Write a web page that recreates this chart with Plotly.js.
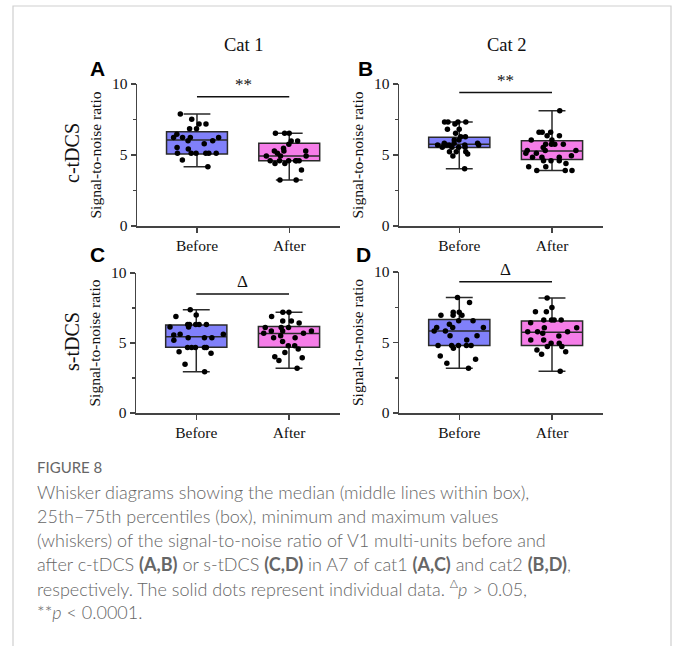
<!DOCTYPE html>
<html>
<head>
<meta charset="utf-8">
<script src="https://cdn.plot.ly/plotly-3.0.1.min.js"></script>
<style>html,body{margin:0;padding:0;background:#fff;}#chart{width:677px;height:646px;}</style>
</head>
<body>
<div id="chart"></div>
<script>
// ---------- data ----------
const groups = ['Before', 'After'];
const panelLetters = ['A', 'B', 'C', 'D'];
const colTitles = ['Cat 1', 'Cat 2'];
const rowTitles = ['c-tDCS', 's-tDCS'];
const sigLabels = ['**', '**', 'Δ', 'Δ'];
const sigLevel = [9.1, 9.4, 8.5, 9.3];

// individual data points
const beforeA = [7.89, 7.51, 7.18, 7.18, 6.85, 6.85, 6.46, 6.24, 6.24, 6.24, 6.24, 6.01, 6.01, 5.80, 5.52, 5.42, 5.12, 5.12, 5.12, 5.12, 5.12, 5.12, 4.65, 4.18];
const afterA  = [6.53, 6.53, 6.53, 5.99, 5.99, 5.75, 5.47, 5.28, 5.28, 5.28, 5.12, 4.93, 4.93, 4.93, 4.60, 4.60, 4.60, 4.60, 4.60, 4.60, 4.41, 4.41, 3.94, 3.24, 3.24];
const beforeB = [7.32, 7.32, 7.32, 7.32, 7.18, 6.81, 6.81, 6.53, 6.29, 6.29, 6.06, 6.06, 5.82, 5.82, 5.82, 5.70, 5.70, 5.70, 5.70, 5.70, 5.55, 5.55, 5.55, 5.55, 5.23, 5.23, 5.23, 5.07, 4.93, 4.04];
const afterB  = [8.12, 6.60, 6.60, 6.60, 6.36, 6.36, 6.06, 6.06, 5.75, 5.75, 5.75, 5.75, 5.52, 5.31, 5.31, 5.31, 5.12, 5.12, 4.95, 4.84, 4.84, 4.84, 4.60, 4.60, 4.60, 4.41, 4.18, 4.18, 3.90, 3.90, 3.90];
const beforeC = [7.38, 7.00, 6.90, 6.33, 6.33, 6.33, 6.33, 6.33, 6.14, 6.14, 5.62, 5.62, 5.57, 5.38, 5.38, 5.38, 5.19, 4.67, 4.67, 4.67, 4.67, 4.67, 4.38, 4.26, 3.48, 2.95];
const afterC  = [7.19, 7.19, 6.90, 6.57, 6.57, 6.43, 6.10, 6.10, 6.10, 5.86, 5.86, 5.86, 5.69, 5.69, 5.52, 5.38, 5.38, 5.10, 4.81, 4.81, 4.57, 4.33, 4.02, 3.95, 3.75, 3.19];
const beforeD = [8.19, 7.84, 7.15, 7.15, 6.94, 6.94, 6.94, 6.54, 6.54, 6.30, 6.07, 6.07, 6.07, 5.81, 5.81, 5.48, 5.48, 5.18, 4.78, 4.78, 4.78, 4.78, 4.78, 4.60, 4.05, 3.81, 3.53, 3.18];
const afterD  = [8.16, 7.48, 7.18, 7.18, 6.59, 6.59, 6.59, 6.59, 6.40, 6.05, 6.05, 5.76, 5.76, 5.76, 5.65, 5.46, 5.18, 5.18, 4.94, 4.94, 4.71, 4.71, 4.47, 4.35, 4.16, 2.96];

// box statistics [Before, After]
const minA = [4.18, 3.24], q1A = [5.07, 4.60], medA = [6.06, 4.93], q3A = [6.64, 5.82], maxA = [7.89, 6.53];
const minB = [4.04, 3.90], q1B = [5.52, 4.69], medB = [5.75, 5.28], q3B = [6.25, 6.01], maxB = [7.32, 8.12];
const minC = [2.95, 3.19], q1C = [4.69, 4.69], medC = [5.45, 5.67], q3C = [6.29, 6.17], maxC = [7.38, 7.19];
const minD = [3.18, 2.96], q1D = [4.78, 4.78], medD = [5.81, 5.72], q3D = [6.64, 6.52], maxD = [8.19, 8.16];

const yTicks = [0, 5, 10];
const captionHead = 'FIGURE 8';
const captionLines = [
  'Whisker diagrams showing the median (middle lines within box),',
  '25th\u201375th percentiles (box), minimum and maximum values',
  '(whiskers) of the signal-to-noise ratio of V1 multi-units before and',
  'after c-tDCS <b>(A,B)</b> or s-tDCS <b>(C,D)</b> in A7 of cat1 <b>(A,C)</b> and cat2 <b>(B,D)</b>,',
  'respectively. The solid dots represent individual data. <sup>\u0394</sup><i>p</i> &gt; 0.05,',
  '**<i>p</i> &lt; 0.0001.'
];

// ---------- layout helpers ----------
const W = 677, H = 646;
const px = v => v / W;
const py = v => 1 - v / H;

const panelData = [
  {pts: [beforeA, afterA], mn: minA, q1: q1A, md: medA, q3: q3A, mx: maxA},
  {pts: [beforeB, afterB], mn: minB, q1: q1B, md: medB, q3: q3B, mx: maxB},
  {pts: [beforeC, afterC], mn: minC, q1: q1C, md: medC, q3: q3C, mx: maxC},
  {pts: [beforeD, afterD], mn: minD, q1: q1D, md: medD, q3: q3D, mx: maxD}
];
const xDom = [[137, 340], [399, 603], [136, 340], [399, 603]];
const yDom = [[84, 226], [84, 226], [273, 413], [272, 413]];
const fills = ['rgb(128,128,250)', 'rgb(245,125,232)'];
const serif = 'Liberation Serif, Times New Roman, serif';
const xRange = [-0.65, 1.55];

const traces = [];
const layout = {
  width: W, height: H,
  margin: {l: 0, r: 0, t: 0, b: 0},
  paper_bgcolor: '#fff', plot_bgcolor: 'rgba(0,0,0,0)',
  showlegend: false,
  boxmode: 'overlay',
  annotations: [], shapes: []
};

panelData.forEach((p, k) => {
  const sx = k === 0 ? '' : String(k + 1);
  groups.forEach((g, j) => {
    traces.push({
      type: 'box',
      xaxis: 'x' + sx, yaxis: 'y' + sx,
      x: [g],
      y: [p.pts[j]],
      q1: [p.q1[j]], median: [p.md[j]], q3: [p.q3[j]],
      lowerfence: [p.mn[j]], upperfence: [p.mx[j]],
      boxpoints: 'all', jitter: 1, pointpos: 0,
      width: 0.66, whiskerwidth: 0.44,
      fillcolor: fills[j],
      line: {color: '#2a2a2a', width: 1.5},
      marker: {color: '#000', size: 5.5, line: {width: 0}},
      hoverinfo: 'y'
    });
  });
  const axCommon = {
    showline: true, linecolor: '#444', linewidth: 1.5,
    ticks: 'outside', ticklen: 5, tickwidth: 1.5, tickcolor: '#444',
    showgrid: false, zeroline: false,
    tickfont: {family: serif, size: 15.5, color: '#111'}
  };
  layout['xaxis' + sx] = Object.assign({}, axCommon, {
    type: 'category', categoryorder: 'array', categoryarray: groups,
    range: xRange, fixedrange: true,
    domain: [px(xDom[k][0]), px(xDom[k][1])],
    anchor: 'y' + sx
  });
  layout['yaxis' + sx] = Object.assign({}, axCommon, {
    range: [0, 10], tickvals: yTicks, ticktext: yTicks.map(String),
    minor: {tickvals: [2.5, 7.5], ticks: 'outside', ticklen: 3, tickwidth: 1.5, tickcolor: '#444'},
    domain: [py(yDom[k][1]), py(yDom[k][0])],
    anchor: 'x' + sx,
    title: {text: 'Signal-to-noise ratio', font: {family: serif, size: 15.5, color: '#111'}, standoff: 6}
  });
  // significance bar
  layout.shapes.push({
    type: 'line', xref: 'x' + sx, yref: 'y' + sx,
    x0: groups[0], x1: groups[1], y0: sigLevel[k], y1: sigLevel[k],
    line: {color: '#111', width: 1.5}
  });
  layout.annotations.push({
    xref: 'x' + sx, yref: 'y' + sx, x: 0.5, y: sigLevel[k],
    text: sigLabels[k], showarrow: false, yanchor: 'bottom', yshift: 1,
    font: {family: serif, size: 17, color: '#111'}
  });
  // panel letter
  const letterPos = [[97, 68], [366, 68], [97, 254], [363, 254]];
  layout.annotations.push({
    xref: 'paper', yref: 'paper', x: px(letterPos[k][0]), y: py(letterPos[k][1]),
    text: '<b>' + panelLetters[k] + '</b>', showarrow: false,
    xanchor: 'center', yanchor: 'middle',
    font: {family: 'Liberation Sans, Arial, sans-serif', size: 21, color: '#000'}
  });
});

// column titles
[[244, 45], [507, 45]].forEach((pos, i) => {
  layout.annotations.push({
    xref: 'paper', yref: 'paper', x: px(pos[0]), y: py(pos[1]),
    text: colTitles[i], showarrow: false, xanchor: 'center', yanchor: 'middle',
    font: {family: serif, size: 18.5, color: '#111'}
  });
});
// row titles
[[72, 153], [72, 342]].forEach((pos, i) => {
  layout.annotations.push({
    xref: 'paper', yref: 'paper', x: px(pos[0]), y: py(pos[1]),
    text: rowTitles[i], showarrow: false, textangle: -90, xanchor: 'center', yanchor: 'middle',
    font: {family: serif, size: 20, color: '#111'}
  });
});

// caption
const capFont = 'Lato, Open Sans, sans-serif';
layout.annotations.push({
  xref: 'paper', yref: 'paper', x: px(35), y: py(467),
  text: captionHead, showarrow: false, xanchor: 'left', yanchor: 'middle',
  font: {family: capFont, size: 15, color: '#666'}
});
captionLines.forEach((t, i) => {
  layout.annotations.push({
    xref: 'paper', yref: 'paper', x: px(35), y: py(492 + i * 24),
    text: t, showarrow: false, xanchor: 'left', yanchor: 'middle',
    font: {family: capFont, size: 18, color: '#666', weight: 300}
  });
});

// frame
layout.shapes.push({
  type: 'rect', xref: 'paper', yref: 'paper',
  x0: px(13), x1: px(671), y0: -0.05, y1: py(6),
  line: {color: '#cfcfcf', width: 1.2}, fillcolor: 'rgba(0,0,0,0)', layer: 'below'
});

Plotly.newPlot('chart', traces, layout, {staticPlot: true, displayModeBar: false});
</script>
</body>
</html>
